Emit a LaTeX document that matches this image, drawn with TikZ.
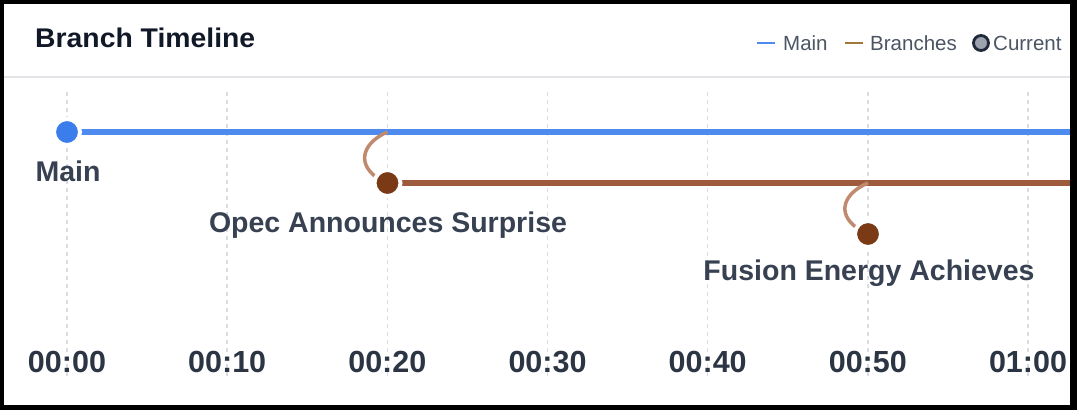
\documentclass[tikz,border=0pt]{standalone}
\usepackage{fontspec}
\setmainfont{Liberation Sans}
\definecolor{titlec}{HTML}{111827}
\definecolor{labelc}{HTML}{374151}
\definecolor{axisc}{HTML}{2B3544}
\definecolor{legc}{HTML}{4B5563}
\definecolor{gridc}{HTML}{D9DCE1}
\definecolor{sepc}{HTML}{E2E4E8}
\definecolor{mainc}{HTML}{4F8BEF}
\definecolor{maindot}{HTML}{3B7EEB}
\definecolor{brline}{HTML}{9E5A3C}
\definecolor{brdot}{HTML}{7A3A16}
\definecolor{brcurve}{HTML}{C08A6E}
\definecolor{legbr}{HTML}{A07838}
\definecolor{curfill}{HTML}{9CA3AF}
\definecolor{curdraw}{HTML}{1F2937}
\tikzset{
  gridline/.style={draw=gridc, line width=1.5pt, dash pattern=on 4pt off 4pt},
  mainline/.style={draw=mainc, line width=6.5pt},
  branchline/.style={draw=brline, line width=6.5pt},
  forkcurve/.style={draw=brcurve, line width=3.5pt},
  maindotst/.style={circle, fill=maindot, draw=white, line width=4pt, minimum size=26pt, inner sep=0pt},
  brdotst/.style={circle, fill=brdot, draw=white, line width=4pt, minimum size=26pt, inner sep=0pt},
  evlabel/.style={anchor=base, text=labelc, font=\fontsize{28.5}{32}\selectfont\bfseries, inner sep=0pt},
  axlabel/.style={anchor=base, text=axisc, font=\fontsize{30.5}{32}\selectfont\bfseries, inner sep=0pt},
  legtext/.style={anchor=base west, text=legc, font=\fontsize{20.5}{22}\selectfont, inner sep=0pt},
}
\begin{document}
\begin{tikzpicture}[x=1pt, y=-1pt]
\useasboundingbox (0,0) rectangle (1077,410);
\fill[black] (0,0) rectangle (1077,410);
\fill[white] (4,4) rectangle (1070,405);
% header
\node[anchor=base west, text=titlec, font=\fontsize{27}{30}\selectfont\bfseries, inner sep=0pt] (title) at (35,47) {\scalebox{1.05}[1]{Branch Timeline}};
\draw[draw=sepc, line width=1.5pt] (4,77) -- (1070,77);
% legend
\coordinate (lm1) at (757,43); \coordinate (lm2) at (775,43);
\draw[draw=mainc, line width=2.5pt] (lm1) -- (lm2);
\node[legtext] (legmain) at (783,50) {Main};
\coordinate (lb1) at (845,43); \coordinate (lb2) at (863,43);
\draw[draw=legbr, line width=2.5pt] (lb1) -- (lb2);
\node[legtext] (legbr) at (870,50) {Branches};
\node[circle, fill=curfill, draw=curdraw, line width=2.8pt, minimum size=15pt, inner sep=0pt] (legcur) at (981,43) {};
\node[legtext] (legcurt) at (993,50) {Current};
% grid
\foreach \i in {0,...,6} {
  \coordinate (gt\i) at ({67+160.17*\i},92);
  \coordinate (gb\i) at ({67+160.17*\i},376);
  \draw[gridline] (gt\i) -- (gb\i);
}
% axis labels
\node[axlabel] (t0) at (67,372) {00:00};
\node[axlabel] (t1) at (227.2,372) {00:10};
\node[axlabel] (t2) at (387.3,372) {00:20};
\node[axlabel] (t3) at (547.5,372) {00:30};
\node[axlabel] (t4) at (707.7,372) {00:40};
\node[axlabel] (t5) at (867.8,372) {00:50};
\node[axlabel] (t6) at (1028,372) {01:00};
% main line
\coordinate (mainend) at (1070,132);
\coordinate (fork1) at (387.5,132);
\coordinate (b1end) at (1070,183);
\coordinate (fork2) at (868,183);
\draw[mainline] (67,132) coordinate (mstart) -- (mainend);
\draw[branchline] (387.5,183) coordinate (b1start) -- (b1end);
% fork curves
\draw[forkcurve] (fork1) .. controls (364,142) and (356,162) .. (376,177);
\draw[forkcurve] (fork2) .. controls (844,193) and (836,213) .. (857,228);
% dots
\node[maindotst] (main) at (mstart) {};
\node[brdotst] (b1) at (b1start) {};
\node[brdotst] (b2) at (868,234) {};
% labels
\node[evlabel] (mainl) at (68,181) {Main};
\node[evlabel] (b1l) at (388,232) {Opec Announces Surprise};
\node[evlabel] (b2l) at (869,280) {Fusion Energy Achieves};
\end{tikzpicture}
\end{document}
